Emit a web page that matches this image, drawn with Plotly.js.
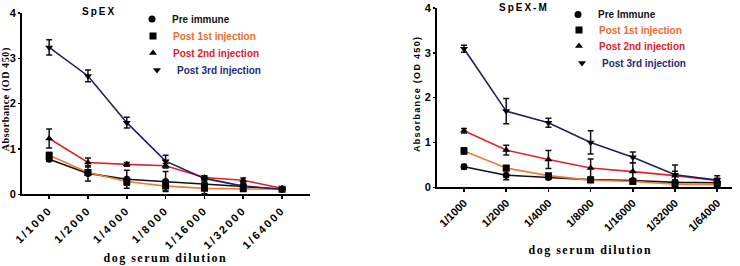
<!DOCTYPE html>
<html><head><meta charset="utf-8">
<script src="https://cdn.plot.ly/plotly-3.0.1.min.js"></script>
<style>
html,body{margin:0;padding:0;background:#fff}
#chart{width:740px;height:266px}
#chart .xtick text{letter-spacing:2.2px}
#chart g.annotation[data-index="0"] text{letter-spacing:2px}
#chart g.annotation[data-index="1"] text{letter-spacing:2px}
#chart g.annotation[data-index="2"] text,#chart g.annotation[data-index="3"] text{letter-spacing:1.5px}
#chart g.annotation[data-index="4"] text{letter-spacing:0.6px}
#chart g.annotation[data-index="5"] text{letter-spacing:1.3px}
</style>
</head><body><div id="chart"></div>
<script>
const categories = ['1/1000','1/2000','1/4000','1/8000','1/16000','1/32000','1/64000'];
const seriesNames = ['Pre immune','Post 1st injection','Post 2nd injection','Post 3rd injection'];
const seriesNamesM = ['Pre Immune','Post 1st injection','Post 2nd injection','Post 3rd injection'];
const panelTitles = ['SpEX','SpEX-M'];
const xTitle = 'dog serum dilution';
const yTitle = 'Absorbance (OD 450)';

// SpEX
const spexPre = [0.77,0.46,0.33,0.28,0.22,0.17,0.11];
const spexPreErr = [0.04,0.17,0.20,0.22,0.10,0.06,0.04];
const spex1st = [0.86,0.48,0.28,0.18,0.13,0.12,0.11];
const spex1stErr = [0.06,0.06,0.08,0.10,0.12,0.05,0.04];
const spex2nd = [1.23,0.70,0.66,0.63,0.37,0.31,0.13];
const spex2ndErr = [0.21,0.10,0.04,0.05,0.04,0.05,0.03];
const spex3rd = [3.24,2.61,1.58,0.73,0.35,0.18,0.11];
const spex3rdErr = [0.17,0.13,0.12,0.13,0.05,0.04,0.03];

// SpEX-M
const spexmPre = [0.46,0.27,0.22,0.17,0.15,0.11,0.10];
const spexmPreErr = [0.05,0.10,0.03,0.04,0.03,0.03,0.03];
const spexm1st = [0.81,0.43,0.26,0.16,0.13,0.07,0.06];
const spexm1stErr = [0.07,0.05,0.04,0.04,0.04,0.04,0.04];
const spexm2nd = [1.26,0.83,0.62,0.43,0.35,0.26,0.15];
const spexm2ndErr = [0.05,0.11,0.20,0.20,0.20,0.10,0.05];
const spexm3rd = [3.09,1.70,1.44,1.00,0.67,0.28,0.16];
const spexm3rdErr = [0.08,0.28,0.10,0.26,0.12,0.22,0.10];

const lineColors = ['#111111','#F07A3A','#E2232B','#1E2160'];
const textColors = ['#111111','#EE6A2E','#E0202C','#252A78'];
const symbols = ['circle','square','triangle-up','triangle-down'];

const W = 740, H = 266;
const px = v => v / W, py = v => 1 - v / H;

const panels = [
  {vals:[spexPre,spex1st,spex2nd,spex3rd], errs:[spexPreErr,spex1stErr,spex2ndErr,spex3rdErr], names:seriesNames, xa:'x', ya:'y',
   legendX:[132,133,133,137], rows:[19,36,53,70]},
  {vals:[spexmPre,spexm1st,spexm2nd,spexm3rd], errs:[spexmPreErr,spexm1stErr,spexm2ndErr,spexm3rdErr], names:seriesNamesM, xa:'x2', ya:'y2',
   legendX:[558,559,559,562], rows:[14,30,46,63]}
];

const legendCommon = {font: {family: 'Arial, Liberation Sans', size: 10, color: '#000', weight: 'bold'},
  bgcolor: 'rgba(0,0,0,0)', borderwidth: 0, xanchor: 'left', yanchor: 'middle', itemwidth: 30};

const traces = [];
const legends = {};
let legendIdx = 0;
panels.forEach(p => {
  for (let i = 0; i < 4; i++) {
    traces.push({
      x: categories, y: p.vals[i], xaxis: p.xa, yaxis: p.ya, type: 'scatter', mode: 'lines+markers',
      line: {color: lineColors[i], width: 1.6},
      marker: {symbol: symbols[i], size: 7, color: '#000'},
      error_y: {type: 'data', array: p.errs[i], visible: true, color: '#111', thickness: 1.5, width: 3},
      showlegend: false, hoverinfo: 'skip'
    });
  }
  for (let i = 0; i < 4; i++) {
    legendIdx++;
    const key = legendIdx === 1 ? 'legend' : 'legend' + legendIdx;
    legends[key] = Object.assign({}, legendCommon, {x: px(p.legendX[i]), y: py(p.rows[i])});
    traces.push({
      x: [null], y: [null], xaxis: p.xa, yaxis: p.ya, type: 'scatter', mode: 'markers',
      marker: {symbol: symbols[i], size: 7, color: '#000'},
      name: '<span style="color:' + textColors[i] + '">' + p.names[i] + '</span>',
      legend: key, showlegend: true
    });
  }
});

function xax(domain, range) {
  return {domain: domain, range: range, type: 'category', showline: true, linecolor: '#000', linewidth: 2,
    ticks: 'outside', ticklen: 3, tickwidth: 1.5, tickcolor: '#000', tickangle: -45,
    tickfont: {family: 'Arial, Liberation Sans', size: 11, color: '#000', weight: 'bold'},
    showgrid: false, zeroline: false, fixedrange: true};
}
function yax(domain, anchor) {
  return {domain: domain, range: [0, 4], dtick: 1, showline: true, linecolor: '#000', linewidth: 2,
    ticks: 'outside', ticklen: 2, tickwidth: 1.5, tickcolor: '#000', anchor: anchor,
    tickfont: {family: 'Arial, Liberation Sans', size: 11, color: '#000', weight: 'bold'},
    showgrid: false, zeroline: false, fixedrange: true};
}

function ann(text, x, y, font, angle) {
  return {text: text, x: px(x), y: py(y), xref: 'paper', yref: 'paper', showarrow: false,
    xanchor: 'center', yanchor: 'middle', textangle: angle || 0, font: font};
}

const layout = Object.assign({
  width: W, height: H, margin: {l: 0, r: 0, t: 0, b: 0}, paper_bgcolor: '#fff', plot_bgcolor: '#fff',
  showlegend: true,
  xaxis: Object.assign(xax([px(22), px(310)], [-0.7, 6.72]), {anchor: 'y'}),
  yaxis: yax([py(194), py(12)], 'x'),
  xaxis2: Object.assign(xax([px(437), px(732)], [-0.64, 6.35]), {anchor: 'y2'}),
  yaxis2: yax([py(187), py(7)], 'x2'),
  annotations: [
    ann(panelTitles[0], 99, 11, {family: 'Arial, Liberation Sans', size: 10, weight: 'bold', color: '#000'}),
    ann(panelTitles[1], 524, 7, {family: 'Arial, Liberation Sans', size: 10, weight: 'bold', color: '#000'}),
    ann(xTitle, 165, 258, {family: 'Times New Roman, Liberation Serif', size: 12, weight: 'bold', color: '#000'}),
    ann(xTitle, 590, 250, {family: 'Times New Roman, Liberation Serif', size: 12, weight: 'bold', color: '#000'}),
    ann(yTitle, 6, 99, {family: 'Times New Roman, Liberation Serif', size: 10, weight: 'bold', color: '#000'}, -90),
    ann(yTitle, 417, 93, {family: 'Arial, Liberation Sans', size: 9, weight: 'bold', color: '#000'}, -90)
  ]
}, legends);

Plotly.newPlot('chart', traces, layout, {staticPlot: true, displayModeBar: false});
</script></body></html>
